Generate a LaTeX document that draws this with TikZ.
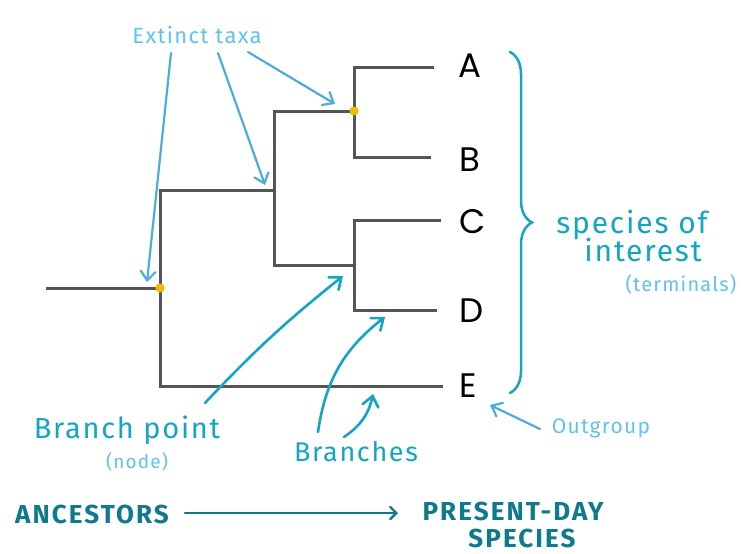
\documentclass[tikz,border=0pt]{standalone}
\usepackage{fontspec}
\setmainfont{Fira Sans}
\newfontfamily\taxonfont{Poppins}
\newfontfamily\handfont[LetterSpace=6]{Fira Sans}
\newfontfamily\timefont[LetterSpace=8]{Fira Sans}
\usepackage{tikz}
\usetikzlibrary{arrows.meta,decorations.pathreplacing}
\definecolor{treegray}{HTML}{555555}
\definecolor{dotyellow}{HTML}{EDBB00}
\definecolor{skyblue}{HTML}{5EC3EE}
\definecolor{skyarrow}{HTML}{4DADD8}
\definecolor{handteal}{HTML}{14A5C2}
\definecolor{deepteal}{HTML}{0F7A8C}

\begin{document}
\begin{tikzpicture}[x=1pt,y=-1pt]
    \tikzstyle{branch}=[draw=treegray,line width=3pt]
    \tikzstyle{yellow dot}=[circle,fill=dotyellow,inner sep=0,minimum size=9pt]
    \tikzstyle{taxon}=[anchor=west,inner sep=0,font=\taxonfont\fontsize{34}{34}\selectfont]
    \tikzstyle{light note}=[inner sep=0,text=skyblue]
    \tikzstyle{hand note}=[inner sep=0,text=handteal,align=center]
    \tikzstyle{time note}=[inner sep=0,text=deepteal,align=center,font=\timefont\bfseries\fontsize{26}{27}\selectfont]
    \tikzstyle{pointer}=[skyarrow,line width=2.2pt,line cap=round,-{Straight Barb[length=9pt,width=15pt,line cap=round]}]
    \tikzstyle{hand pointer}=[handteal,line width=2.6pt,line cap=round,-{Straight Barb[length=10pt,width=16pt,line cap=round]}]

    \useasboundingbox (0,0) rectangle (745,554);

    \coordinate (r) at (46,288);
    \node(0)[yellow dot] at (160,288) {};
    \coordinate (1) at (274,190);
    \node(2)[yellow dot] at (354,111) {};
    \coordinate (3) at (354,265);
    \coordinate (a) at (434,67);
    \coordinate (b) at (431,157);
    \coordinate (c) at (441,220);
    \coordinate (d) at (437,310);
    \coordinate (e) at (443,386);

    \draw[branch] (r) -- (0.center);
    \draw[branch] (e) -| (0.center) |- (1);
    \draw[branch] (2.center) -| (1) |- (3);
    \draw[branch] (a) -| (2.center) |- (b);
    \draw[branch] (c) -| (3) |- (d);
    \node[yellow dot] at (0) {};
    \node[yellow dot] at (2) {};

    \node(A)[taxon] at (458,66) {A};
    \node(B)[taxon] at (459,160) {B};
    \node(C)[taxon] at (459,222) {C};
    \node(D)[taxon] at (459,311) {D};
    \node(E)[taxon] at (459,386) {E};

    \draw[handteal,line width=2.5pt,line cap=round,
        decorate,decoration={brace,amplitude=22pt}] (510,52) -- (510,393);

    \node(ext)[light note,font=\handfont\fontsize{22}{22}\selectfont] at (197,35) {Extinct taxa};
    \coordinate (x1) at (171,53);
    \coordinate (x2) at (218,53);
    \coordinate (x3) at (248,52);
    \coordinate (t1) at (147,282);
    \coordinate (t2) at (265,185);
    \coordinate (t3) at (335,104);
    \draw[pointer] (x1) -- (t1);
    \draw[pointer] (x2) -- (t2);
    \draw[pointer] (x3) -- (t3);

    \node(soi)[hand note,font=\handfont\fontsize{30}{26}\selectfont] at (632,236) {species of\\[-2pt]\hspace*{22pt}interest};
    \node(term)[light note,font=\handfont\fontsize{20}{20}\selectfont] at (681,284) {(terminals)};

    \node(out)[light note,font=\handfont\fontsize{21}{21}\selectfont] at (601,428) {Outgroup};
    \coordinate (o1) at (540,429);
    \coordinate (o2) at (490,405);
    \draw[pointer] (o1) -- (o2);

    \node(bp)[hand note,font=\handfont\fontsize{29}{29}\selectfont] at (127,430) {Branch point};
    \node(nd)[light note,font=\handfont\fontsize{19}{19}\selectfont] at (137,462) {(node)};
    \coordinate (p1) at (205,403);
    \coordinate (p2) at (343,276);
    \draw[hand pointer] (p1) to[bend left=4] (p2);

    \node(br)[hand note,font=\handfont\fontsize{27}{27}\selectfont] at (356,452) {Branches};
    \coordinate (q1) at (318,432);
    \coordinate (q2) at (385,317);
    \coordinate (q3) at (344,437);
    \coordinate (q4) at (373,394);
    \draw[hand pointer] (q1) to[bend left=22] (q2);
    \draw[hand pointer] (q3) to[bend right=22] (q4);

    \node(anc)[time note] at (92,514) {ANCESTORS};
    \node(pds)[time note] at (513,525) {PRESENT-DAY\\\hspace*{18pt}SPECIES};
    \coordinate (s1) at (185,513);
    \coordinate (s2) at (398,513);
    \draw[deepteal,line width=2.4pt,line cap=round,-{Straight Barb[length=6pt,width=12pt,line cap=round]}] (s1) -- (s2);
\end{tikzpicture}
\end{document}
